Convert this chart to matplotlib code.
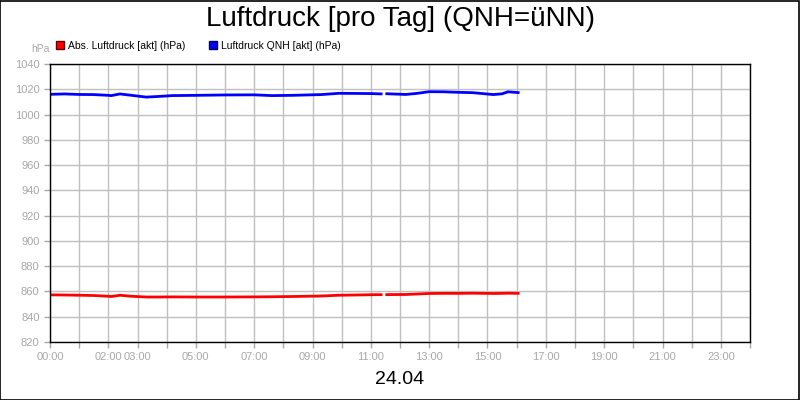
import numpy as np
import matplotlib.pyplot as plt
from matplotlib.patches import Patch, Rectangle

plt.rcParams['font.family'] = ['Liberation Sans', 'DejaVu Sans']

# Stunden (0..24) und Messwerte, NaN = Lücke
hours = [0, 0.5, 1, 1.5, 2.0, 2.1, 2.4, 2.8, 3.3, 3.7, 4.2, 5, 6, 7, 7.6, 8.3, 8.8, 9.3,
         9.9, 10.5, 11.0, 11.4, 11.45, 11.5, 12.2, 12.6, 13.0, 13.5, 14.0, 14.5, 15.2,
         15.5, 15.7, 16.1]
qnh = [1016.0, 1016.3, 1015.9, 1015.8, 1015.2, 1015.0, 1016.3, 1015.2, 1013.8, 1014.3,
       1015.0, 1015.2, 1015.5, 1015.6, 1015.0, 1015.2, 1015.5, 1015.8, 1016.8, 1016.7,
       1016.6, 1016.3, np.nan, 1016.5, 1015.9, 1016.8, 1018.1, 1018.0, 1017.6, 1017.3,
       1015.8, 1016.4, 1018.0, 1017.3]
abs_p = [857.3, 857.2, 857.0, 856.8, 856.2, 856.0, 857.0, 856.2, 855.6, 855.6, 855.7,
         855.6, 855.6, 855.7, 855.8, 856.0, 856.2, 856.4, 857.0, 857.2, 857.4, 857.5,
         np.nan, 857.5, 857.6, 858.0, 858.4, 858.5, 858.5, 858.6, 858.4, 858.5, 858.6,
         858.5]

y_ticks = list(range(820, 1041, 20))
x_label_hours = [0, 2, 3, 5, 7, 9, 11, 13, 15, 17, 19, 21, 23]

grey = '#a8a8a8'

fig = plt.figure(figsize=(8, 4), dpi=100)
ax = fig.add_axes([0.0625, 0.145, 0.875, 0.695])

ax.plot(hours, abs_p, color='#ff0000', lw=2.0, solid_capstyle='butt')
ax.plot(hours, qnh, color='#0000ff', lw=2.0, solid_capstyle='butt')

ax.set_xlim(0, 24)
ax.set_ylim(820, 1040)
ax.set_yticks(y_ticks)
ax.set_xticks(range(0, 25))
ax.set_xticklabels(['%02d:00' % h if h in x_label_hours else '' for h in range(0, 25)])
ax.grid(True, color='#c0c0c0', lw=1)
ax.set_axisbelow(True)
ax.tick_params(colors=grey, labelsize=8, length=4, width=1)
for s in ax.spines.values():
    s.set_color('black')
    s.set_linewidth(1)

fig.text(0.5, 0.952, 'Luftdruck [pro Tag] (QNH=üNN)', ha='center', va='center', fontsize=20)
fig.text(0.5, 0.05, '24.04', ha='center', va='center', fontsize=14)
fig.text(0.05, 0.878, 'hPa', ha='center', va='center', fontsize=7.5, color=grey)

handles = [Patch(facecolor='#ff0000', edgecolor='#600000', label='Abs. Luftdruck [akt] (hPa)'),
           Patch(facecolor='#0000ff', edgecolor='#000060', label='Luftdruck QNH [akt] (hPa)')]
fig.legend(handles=handles, loc='center left', bbox_to_anchor=(0.07, 0.886), ncol=2,
           frameon=False, fontsize=7.5, handlelength=0.8, handleheight=0.8,
           handletextpad=0.4, columnspacing=2.2, borderaxespad=0, borderpad=0)

fig.patches.append(Rectangle((0.0005, 0.001), 0.998, 0.997, transform=fig.transFigure,
                             fill=False, edgecolor='black', lw=1.2))

fig.savefig('out.png', dpi=100)
